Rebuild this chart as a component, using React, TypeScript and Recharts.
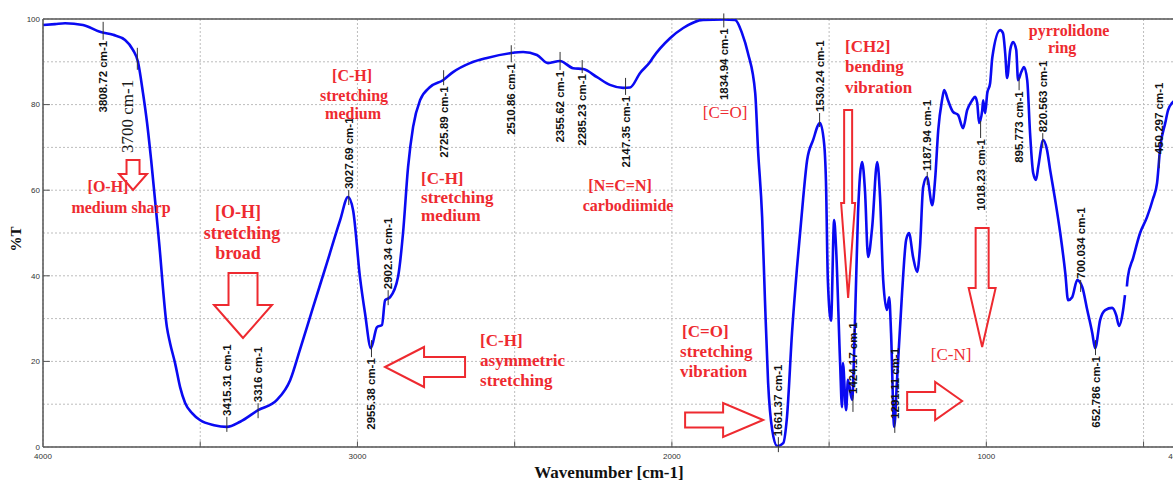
import React from 'react';
import { LineChart, Line, XAxis, YAxis, CartesianGrid, ReferenceLine, ReferenceDot } from 'recharts';

// FTIR spectrum: [wavenumber cm-1, %T]
const spectrumPoints: Array<[number, number | null]> = [
  [4000, 98.6], [3962, 98.8], [3930, 99.0], [3873, 98.6], [3819, 97.0], [3777, 96.3], [3739, 95.1],
  [3714, 92.8], [3698, 90.0], [3682, 82.7], [3669, 75.7], [3656, 67.0], [3631, 48.0], [3606, 28.0],
  [3596, 24.3], [3580, 19.6], [3564, 14.0], [3548, 10.3], [3526, 7.9], [3501, 6.3], [3456, 5.1],
  [3415, 4.7], [3373, 5.9], [3316, 8.6], [3256, 11.0], [3214, 15.6], [3183, 22.7], [3141, 32.7],
  [3097, 43.0], [3055, 53.0], [3030, 58.4], [3014, 55.4], [2992, 39.7], [2976, 31.3], [2957, 23.1],
  [2938, 28.0], [2922, 28.5], [2912, 34.3], [2896, 35.0], [2871, 39.7], [2855, 50.0], [2839, 65.4],
  [2823, 74.8], [2801, 81.0], [2769, 84.1], [2728, 85.7], [2696, 87.6], [2642, 89.7], [2588, 90.9],
  [2515, 92.0], [2473, 92.3], [2429, 91.6], [2394, 89.7], [2356, 90.2], [2314, 88.5], [2282, 88.3],
  [2238, 86.4], [2197, 84.6], [2155, 83.9], [2133, 84.0], [2101, 87.4], [2069, 90.0], [2060, 91.0],
  [2006, 95.5], [1964, 97.9], [1901, 99.8], [1837, 99.9], [1799, 99.8], [1777, 96.7], [1758, 92.0],
  [1735, 82.7], [1726, 69.4], [1713, 53.7], [1704, 34.3], [1694, 15.0], [1681, 4.0], [1665, 0.2],
  [1646, 0.9], [1634, 7.0], [1618, 26.6], [1602, 42.0], [1583, 57.7], [1570, 67.0], [1551, 71.7],
  [1529, 75.7], [1516, 71.0], [1510, 62.0], [1504, 39.0], [1494, 29.5], [1484, 53.0], [1478, 46.7],
  [1465, 19.6], [1459, 9.3], [1456, 19.6], [1446, 8.6], [1440, 15.7], [1427, 11.0], [1417, 31.3],
  [1408, 54.7], [1395, 66.6], [1386, 60.0], [1376, 44.4], [1363, 51.4], [1347, 66.6], [1338, 58.4],
  [1328, 39.0], [1316, 32.0], [1309, 35.0], [1303, 26.6], [1293, 4.7], [1284, 15.7], [1268, 36.0],
  [1255, 48.4], [1246, 50.0], [1233, 44.4], [1220, 40.9], [1211, 46.7], [1201, 60.7], [1189, 63.1],
  [1172, 56.5], [1163, 62.4], [1153, 74.0], [1141, 81.0], [1134, 83.4], [1122, 81.0], [1106, 78.3],
  [1090, 77.6], [1074, 74.5], [1061, 78.7], [1045, 81.0], [1036, 81.8], [1029, 80.4], [1023, 75.7],
  [1013, 78.7], [1010, 81.0], [1004, 78.0], [997, 82.7], [988, 85.0], [981, 91.0], [956, 97.4],
  [947, 96.7], [940, 92.0], [934, 86.2], [924, 92.8], [915, 94.6], [905, 92.8], [899, 85.7],
  [889, 87.6], [880, 88.8], [870, 85.7], [861, 73.4], [851, 64.0], [842, 62.4], [835, 65.4],
  [819, 71.7], [807, 69.4], [797, 64.7], [781, 57.7], [765, 50.0], [749, 40.7], [740, 34.3],
  [727, 35.0], [711, 39.0], [695, 37.4], [679, 32.0], [663, 26.6], [654, 23.1], [638, 29.7],
  [622, 32.0], [600, 32.5], [587, 30.8], [578, 28.3], [565, 32.0], [559, 35.5], [555, null],
  [553, 37.5], [550, 39.7], [533, 44.2], [511, 50.0], [489, 53.7], [470, 58.0], [457, 61.7],
  [447, 70.0], [431, 75.7], [422, 78.7], [409, 80.4], [400, 81.0],
];
const spectrum = spectrumPoints.map(([wn, t]) => ({ wn, t }));

const xTicks = [4000, 3500, 3000, 2500, 2000, 1500, 1000, 500, 400];
const xTickLabels = [4000, 3000, 2000, 1000, 400];
const xMinorTicks = [3500, 3000, 2500, 2000, 1500, 1000, 500];
const yTicks = [0, 10, 20, 30, 40, 50, 60, 70, 80, 90, 100];
const yTickLabels = [0, 20, 40, 60, 80, 100];
const yMajorTicks = [20, 40, 60, 80];

// Peak picks
const peakWavenumbers = [3808.72, 3415.31, 3316, 3027.69, 2955.38, 2902.34, 2725.89, 2510.86, 2355.62, 2285.23,
  2147.35, 1834.94, 1661.37, 1530.24, 1424.17, 1291.11, 1187.94, 1018.23, 895.773, 820.563, 700.034, 652.786, 450.297];
const peakTransmittance = [97.0, 4.7, 8.6, 58.4, 23.1, 35.0, 85.7, 92.0, 90.2, 88.3,
  83.9, 99.9, 0.2, 75.7, 11.0, 4.7, 63.1, 75.7, 85.7, 71.7, 37.4, 23.1, 67.0];
const peakTexts = ['3808.72 cm-1', '3415.31 cm-1', '3316 cm-1', '3027.69 cm-1', '2955.38 cm-1', '2902.34 cm-1',
  '2725.89 cm-1', '2510.86 cm-1', '2355.62 cm-1', '2285.23 cm-1', '2147.35 cm-1', '1834.94 cm-1', '1661.37 cm-1',
  '1530.24 cm-1', '1424.17 cm-1', '1291.11 cm-1', '1187.94 cm-1', '1018.23 cm-1', '895.773 cm-1', '820.563 cm-1',
  '700.034 cm-1', '652.786 cm-1', '450.297 cm-1'];
// layout: side of the text, marker extent above (a) / below (b) the point, in px
const peakLayout: Array<{ side: 'up' | 'down'; a: number; b: number }> = [
  { side: 'down', a: 10, b: 8 }, { side: 'up', a: 10, b: 5 }, { side: 'up', a: 7, b: 8 }, { side: 'up', a: 7, b: 8 },
  { side: 'down', a: 8, b: 9 }, { side: 'up', a: 7, b: 8 }, { side: 'down', a: 10, b: 5 }, { side: 'down', a: 8, b: 9 },
  { side: 'down', a: 9, b: 9 }, { side: 'down', a: 9, b: 4 }, { side: 'down', a: 10, b: 7 }, { side: 'down', a: 6, b: 8 },
  { side: 'up', a: 9, b: 6 }, { side: 'up', a: 10, b: 4 }, { side: 'up', a: 5, b: 12 }, { side: 'up', a: 7, b: 6 },
  { side: 'up', a: 5, b: 8 }, { side: 'down', a: 2, b: 15 }, { side: 'down', a: 3, b: 10 }, { side: 'up', a: 7, b: 8 },
  { side: 'up', a: 7, b: 5 }, { side: 'down', a: 8, b: 7 }, { side: 'up', a: 5, b: 8 },
];

const shoulderWavenumber = 3700;
const shoulderTransmittance = 90;
const shoulderText = '3700 cm-1';

// Red annotation text blocks, anchored at (wavenumber, %T)
const noteAnchors: Array<[number, number]> = [
  [3793.3, 60.75], [3373.4, 54.9], [3010.8, 86.9], [2797.7, 62.85], [2610.0, 25.0],
  [2164.7, 61.0], [1830.8, 78.04], [1973.9, 26.87], [1449.1, 93.46], [1111.9, 21.5], [736.6, 97.2],
];
const noteTexts: string[][] = [
  ['[O-H]', 'medium sharp'],
  ['[O-H]', 'stretching', 'broad'],
  ['[C-H]', 'stretching', 'medium'],
  ['[C-H]', 'stretching', 'medium'],
  ['[C-H]', 'asymmetric', 'stretching'],
  ['[N=C=N]', 'carbodiimide'],
  ['[C=O]'],
  ['[C=O]', 'stretching', 'vibration'],
  ['[CH2]', 'bending', 'vibration'],
  ['[C-N]'],
  ['pyrrolidone', 'ring'],
];
const noteLayout: Array<{ anchor: 'middle' | 'start'; size: number; bold: boolean; offs: Array<[number, number]> }> = [
  { anchor: 'middle', size: 16, bold: true, offs: [[0, 0], [13, 21]] },
  { anchor: 'middle', size: 18, bold: true, offs: [[-2, 0], [2, 21], [-2, 41]] },
  { anchor: 'middle', size: 16, bold: true, offs: [[-2, 0], [0, 20], [-1, 38]] },
  { anchor: 'start', size: 17, bold: true, offs: [[0, 0], [0, 19], [0, 37]] },
  { anchor: 'start', size: 17, bold: true, offs: [[0, 0], [0, 20], [0, 40]] },
  { anchor: 'middle', size: 16, bold: true, offs: [[0, 0], [8, 20]] },
  { anchor: 'middle', size: 17, bold: false, offs: [[0, 0]] },
  { anchor: 'start', size: 17, bold: true, offs: [[2, 0], [0, 20], [0, 40]] },
  { anchor: 'start', size: 17, bold: true, offs: [[0, 0], [0, 20], [0, 41]] },
  { anchor: 'middle', size: 17, bold: false, offs: [[0, 0]] },
  { anchor: 'middle', size: 16, bold: true, offs: [[0, 0], [-7, 17]] },
];

// Hollow arrows: tip at (wavenumber, %T)
const arrowTips: Array<[number, number]> = [
  [3713.7, 60.05], [3363.9, 25.47], [2912.2, 18.69], [1709.9, 6.31], [1439.5, 34.81], [1013.3, 23.36], [1076.9, 10.75],
];
const arrowLayout: Array<{ dir: 'down' | 'left' | 'right'; sl: number; sw: number; hl: number; hw: number }> = [
  { dir: 'down', sl: 14, sw: 13, hl: 16, hw: 28 },
  { dir: 'down', sl: 32, sw: 29, hl: 33, hw: 58 },
  { dir: 'left', sl: 41, sw: 20, hl: 39, hw: 40 },
  { dir: 'right', sl: 38, sw: 15, hl: 40, hw: 34 },
  { dir: 'down', sl: 93, sw: 8, hl: 95, hw: 14 },
  { dir: 'down', sl: 60, sw: 13, hl: 59, hw: 27 },
  { dir: 'right', sl: 28, sw: 18, hl: 27, hw: 38 },
];

const RED = '#ee2a30';
const BLUE = '#0a0af2';
const SERIF = '"Liberation Serif", "Times New Roman", serif';
const SANS = '"Liberation Sans", Arial, sans-serif';
const AXIS = '#555';

function arrowPoints(cx: number, cy: number, l: { dir: string; sl: number; sw: number; hl: number; hw: number }) {
  const base: Array<[number, number]> = [
    [0, 0], [-l.hw / 2, -l.hl], [-l.sw / 2, -l.hl], [-l.sw / 2, -l.hl - l.sl],
    [l.sw / 2, -l.hl - l.sl], [l.sw / 2, -l.hl], [l.hw / 2, -l.hl],
  ];
  return base
    .map(([x, y]) => {
      if (l.dir === 'left') return [-y, x];
      if (l.dir === 'right') return [y, x];
      return [x, y];
    })
    .map(([x, y]) => `${cx + x},${cy + y}`)
    .join(' ');
}

function renderPeak(cx: number, cy: number, i: number) {
  const l = peakLayout[i];
  const top = cy - l.a;
  const bot = cy + l.b;
  const ty = l.side === 'up' ? top - 1 : bot + 1;
  return (
    <g>
      <line x1={cx} x2={cx} y1={top} y2={bot} stroke="#333" strokeWidth={1} />
      <text
        x={cx}
        y={ty}
        transform={`rotate(-90 ${cx} ${ty})`}
        textAnchor={l.side === 'up' ? 'start' : 'end'}
        dominantBaseline="central"
        fontFamily={SANS}
        fontWeight="bold"
        fontSize={11.5}
        fill="#111"
      >
        {peakTexts[i]}
      </text>
    </g>
  );
}

function renderShoulder(cx: number, cy: number) {
  const tx = cx - 10;
  const ty = cy + 18;
  return (
    <g>
      <line x1={cx} x2={cx} y1={cy - 14} y2={cy + 8} stroke="#333" strokeWidth={1} />
      <text
        x={tx}
        y={ty}
        transform={`rotate(-90 ${tx} ${ty})`}
        textAnchor="end"
        dominantBaseline="central"
        fontFamily={SERIF}
        fontSize={17}
        fill="#1a1a1a"
      >
        {shoulderText}
      </text>
    </g>
  );
}

function renderNote(cx: number, cy: number, i: number) {
  const l = noteLayout[i];
  return (
    <g>
      {noteTexts[i].map((s, k) => (
        <text
          key={k}
          x={cx + l.offs[k][0]}
          y={cy + l.offs[k][1]}
          textAnchor={l.anchor}
          dominantBaseline="central"
          fontFamily={SERIF}
          fontWeight={l.bold ? 'bold' : 'normal'}
          fontSize={l.size}
          fill={RED}
        >
          {s}
        </text>
      ))}
    </g>
  );
}

function renderArrow(cx: number, cy: number, i: number) {
  return <polygon points={arrowPoints(cx, cy, arrowLayout[i])} fill="none" stroke={RED} strokeWidth={2} />;
}

export default function App() {
  return (
    <div style={{ position: 'fixed', left: 0, top: 0, width: 1173, height: 483, overflow: 'hidden', background: '#fff' }}>
      <LineChart width={1180} height={483} data={spectrum} margin={{ top: 19, right: 5, bottom: 0, left: 0 }}>
        <CartesianGrid stroke="#bdbdbd" strokeDasharray="2 2" />
        <XAxis
          dataKey="wn"
          type="number"
          domain={[400, 4000]}
          reversed
          allowDataOverflow
          ticks={xTicks}
          interval={0}
          tickFormatter={(v: number) => (xTickLabels.includes(v) ? String(v) : '')}
          tick={{ fontSize: 8, fill: '#333', fontFamily: SANS }}
          tickLine={false}
          tickSize={6}
          tickMargin={0}
          height={36}
          axisLine={{ stroke: AXIS, strokeWidth: 1.5 }}
          label={{
            content: (p: any) => {
              const vb = p.viewBox || { x: 43, y: 447, width: 1132, height: 36 };
              return (
                <text
                  x={vb.x + vb.width / 2}
                  y={vb.y + 31}
                  textAnchor="middle"
                  fontFamily={SERIF}
                  fontWeight="bold"
                  fontSize={17}
                  fill="#111"
                >
                  Wavenumber [cm-1]
                </text>
              );
            },
          }}
        />
        <YAxis
          type="number"
          domain={[0, 100]}
          allowDataOverflow
          ticks={yTicks}
          interval={0}
          tickFormatter={(v: number) => (yTickLabels.includes(v) ? String(v) : '')}
          tick={{ fontSize: 8, fill: '#333', fontFamily: SANS }}
          tickLine={false}
          tickSize={3}
          tickMargin={0}
          width={43}
          axisLine={{ stroke: AXIS, strokeWidth: 1.5 }}
          label={{
            content: (p: any) => {
              const vb = p.viewBox || { x: 0, y: 19, width: 43, height: 428 };
              const x = vb.x + 16;
              const y = vb.y + vb.height / 2 + 6;
              return (
                <text
                  x={x}
                  y={y}
                  transform={`rotate(-90 ${x} ${y})`}
                  textAnchor="middle"
                  dominantBaseline="central"
                  fontFamily={SERIF}
                  fontWeight="bold"
                  fontSize={15}
                  fill="#111"
                >
                  %T
                </text>
              );
            },
          }}
        />
        <ReferenceLine y={100} stroke={AXIS} strokeWidth={1.5} />
        {xMinorTicks.map((v) => (
          <ReferenceLine key={'xt' + v} segment={[{ x: v, y: 0 }, { x: v, y: 1.3 }]} stroke={AXIS} strokeWidth={1} />
        ))}
        {yMajorTicks.map((v) => (
          <ReferenceLine key={'yt' + v} segment={[{ x: 4000, y: v }, { x: 3978, y: v }]} stroke={AXIS} strokeWidth={1} />
        ))}
        <Line
          type="monotoneX"
          dataKey="t"
          stroke={BLUE}
          strokeWidth={2.6}
          dot={false}
          activeDot={false}
          isAnimationActive={false}
          connectNulls={false}
        />
        {peakWavenumbers.map((wn, i) => (
          <ReferenceDot
            key={'pk' + i}
            x={wn}
            y={peakTransmittance[i]}
            r={1}
            ifOverflow="visible"
            shape={(p: any) => renderPeak(p.cx, p.cy, i)}
          />
        ))}
        <ReferenceDot
          x={shoulderWavenumber}
          y={shoulderTransmittance}
          r={1}
          ifOverflow="visible"
          shape={(p: any) => renderShoulder(p.cx, p.cy)}
        />
        {noteAnchors.map(([wn, t], i) => (
          <ReferenceDot
            key={'nt' + i}
            x={wn}
            y={t}
            r={1}
            ifOverflow="visible"
            shape={(p: any) => renderNote(p.cx, p.cy, i)}
          />
        ))}
        {arrowTips.map(([wn, t], i) => (
          <ReferenceDot
            key={'ar' + i}
            x={wn}
            y={t}
            r={1}
            ifOverflow="visible"
            shape={(p: any) => renderArrow(p.cx, p.cy, i)}
          />
        ))}
      </LineChart>
    </div>
  );
}
